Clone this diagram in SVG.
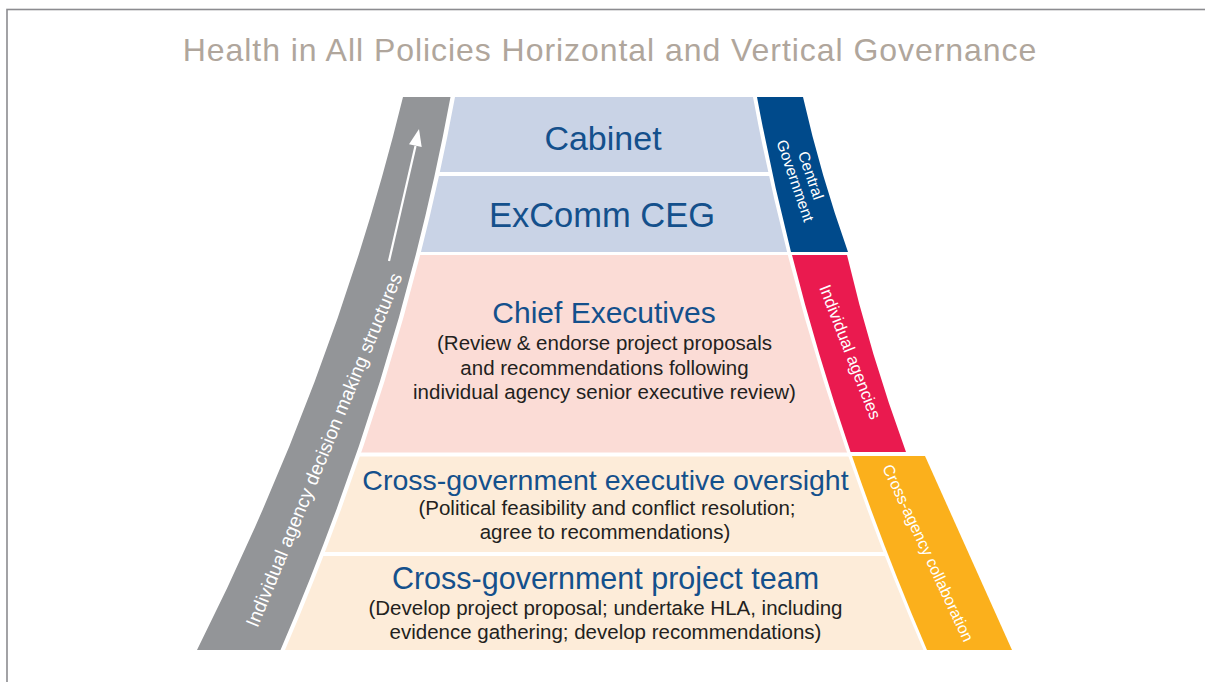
<svg xmlns="http://www.w3.org/2000/svg" width="1205" height="682" viewBox="0 0 1205 682">
<style>
  .head { font-family: "Liberation Sans", Arial, sans-serif; fill: #14508c; text-anchor: middle; }
  .sub { font-family: "Liberation Sans", Arial, sans-serif; fill: #231f20; text-anchor: middle; font-size: 20.5px; }
  .band { font-family: "Liberation Sans", Arial, sans-serif; fill: #ffffff; text-anchor: middle; }
</style>
<defs>
  <clipPath id="pyr">
    <path d="M455,97 L753,97 Q804.2,373.5 923.5,650 L285,650 Q403.8,373.5 455,97 Z"/>
  </clipPath>
</defs>
<rect x="0" y="0" width="1205" height="682" fill="#ffffff"/>
<rect x="7" y="9.5" width="1300" height="700" fill="none" stroke="#8c8c90" stroke-width="1.6"/>
<text x="610" y="61" font-family="Liberation Sans, Arial, sans-serif" font-size="32" fill="#b0a69c" text-anchor="middle" letter-spacing="0.95">Health in All Policies Horizontal and Vertical Governance</text>

<g id="side-left">
  <path d="M403,97 L450.5,97 Q399.3,373.5 280.5,650 L197,650 Q335.4,373.5 403,97 Z" fill="#939598"/>
  <text class="band" font-size="19.2" transform="translate(324,450) rotate(-67.6)" dominant-baseline="central">Individual agency decision making structures</text>
</g>
<g id="connectors">
  <path d="M389,261 Q403,200 415.5,146" fill="none" stroke="#ffffff" stroke-width="2.2"/>
  <polygon points="419,129 421.7,147 409,144.2" fill="#ffffff"/>
</g>

<g id="cabinet">
  <rect x="250" y="97" width="700" height="75" fill="#c9d3e6" clip-path="url(#pyr)"/>
  <text class="head" x="603" y="150" font-size="34">Cabinet</text>
</g>
<g id="excomm">
  <rect x="250" y="176" width="700" height="76" fill="#c9d3e6" clip-path="url(#pyr)"/>
  <text class="head" x="602" y="227" font-size="34.5">ExComm CEG</text>
</g>
<g id="chief">
  <rect x="250" y="255" width="700" height="197.5" fill="#fbdcd6" clip-path="url(#pyr)"/>
  <text class="head" x="604" y="323" font-size="30">Chief Executives</text>
  <text class="sub" x="604.5" y="350">(Review &amp; endorse project proposals</text>
  <text class="sub" x="604.5" y="375">and recommendations following</text>
  <text class="sub" x="604.5" y="399">individual agency senior executive review)</text>
</g>
<g id="oversight">
  <rect x="250" y="456.5" width="700" height="95.5" fill="#fdecd9" clip-path="url(#pyr)"/>
  <text class="head" x="605.5" y="490" font-size="28.5">Cross-government executive oversight</text>
  <text class="sub" x="607" y="515">(Political feasibility and conflict resolution;</text>
  <text class="sub" x="605" y="539">agree to recommendations)</text>
</g>
<g id="project">
  <rect x="250" y="556" width="700" height="94" fill="#fdecd9" clip-path="url(#pyr)"/>
  <text class="head" x="605.5" y="589" font-size="30.5">Cross-government project team</text>
  <text class="sub" x="605.5" y="615">(Develop project proposal; undertake HLA, including</text>
  <text class="sub" x="605.5" y="639">evidence gathering; develop recommendations)</text>
</g>

<g id="central-government">
  <path d="M757,97 L803,97 Q820.5,174.5 848,252 L791,252 Q771.3,174.5 757,97 Z" fill="#004a8b"/>
  <g transform="translate(803,178) rotate(71)">
    <text class="band" x="0" y="-3" font-size="15.5">Central</text>
    <text class="band" x="0" y="13.5" font-size="15.5">Government</text>
  </g>
</g>
<g id="individual-agencies">
  <path d="M792,255 L847,255 Q870,353.5 906,452 L850.6,452 Q816.9,353.5 792,255 Z" fill="#ea1a4f"/>
  <text class="band" font-size="16.8" transform="translate(850,352) rotate(68.8)" dominant-baseline="central">Individual agencies</text>
</g>
<g id="cross-agency">
  <path d="M852,456 L925,456 L1012,650 L927,650 Q885.3,553 852,456 Z" fill="#fbb01c"/>
  <text class="band" font-size="16" transform="translate(928,553) rotate(65)" dominant-baseline="central">Cross-agency collaboration</text>
</g>
</svg>
